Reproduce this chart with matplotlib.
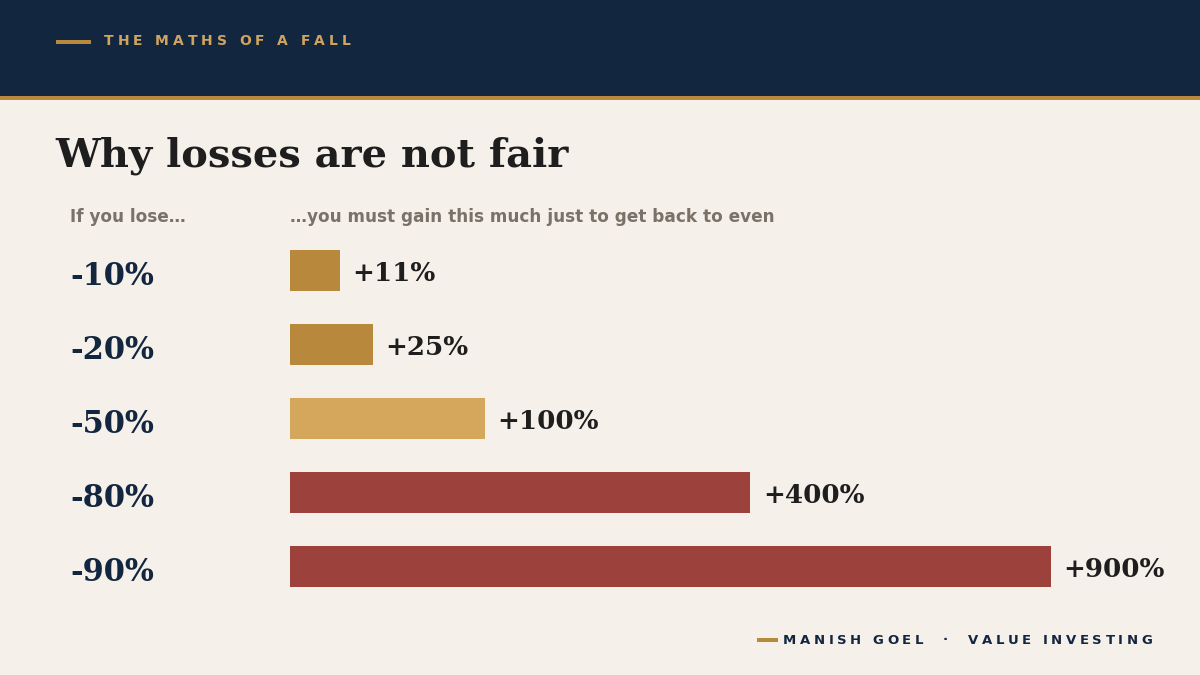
# losses vs gains needed to recover

import numpy as np
import matplotlib.pyplot as plt
from matplotlib.patches import Rectangle

# data
losses = ['-10%', '-20%', '-50%', '-80%', '-90%']
gains = [11, 25, 100, 400, 900]
gain_labels = ['+11%', '+25%', '+100%', '+400%', '+900%']
bar_colors = ['#B8893C', '#B8893C', '#D4A75C', '#9C413B', '#9C413B']

BG = '#F5F0EA'
NAVY = '#12263F'
GOLD = '#B8893C'
GREY = '#7A7268'
INK = '#1E1E1E'

W, H = 1200, 675
fig = plt.figure(figsize=(12, 6.75), dpi=100, facecolor=BG)


def fx(px):
    return px / W


def fy(py):
    return 1 - py / H


# header band + gold rule
fig.patches.append(Rectangle((0, fy(96)), 1, 96 / H, transform=fig.transFigure,
                             facecolor=NAVY, edgecolor='none'))
fig.patches.append(Rectangle((0, fy(100)), 1, 4 / H, transform=fig.transFigure,
                             facecolor=GOLD, edgecolor='none'))
fig.patches.append(Rectangle((fx(56), fy(43.5)), 35 / W, 3.5 / H, transform=fig.transFigure,
                             facecolor=GOLD, edgecolor='none'))
fig.patches.append(Rectangle((fx(757), fy(641.5)), 21 / W, 3.5 / H, transform=fig.transFigure,
                             facecolor=GOLD, edgecolor='none'))

renderer = fig.canvas.get_renderer()


def spaced_text(x, y, s, spacing, **kw):
    # draw text char by char with extra tracking (pixels)
    for ch in s:
        t = fig.text(fx(x), fy(y), ch, va='center', ha='left', **kw)
        w = t.get_window_extent(renderer).width
        if ch == ' ':
            w = kw.get('fontsize', 10) * 100 / 72 * 0.35
        x += w + spacing
    return x


spaced_text(104, 41, 'THE MATHS OF A FALL', 3.9, fontsize=10, fontweight='bold',
            color='#CFA45E', family='DejaVu Sans')
spaced_text(783, 640, 'MANISH GOEL  ·  VALUE INVESTING', 3.55, fontsize=9.5, fontweight='bold',
            color=NAVY, family='DejaVu Sans')

fig.text(fx(55), fy(156), 'Why losses are not fair', fontsize=28.8, fontweight='bold',
         family='DejaVu Serif', color=INK, va='center', ha='left')
fig.text(fx(70), fy(217), 'If you lose…', fontsize=12.2, fontweight='bold',
         family='DejaVu Sans', color=GREY, va='center', ha='left')
fig.text(fx(290), fy(217), '…you must gain this much just to get back to even', fontsize=12.2,
         fontweight='bold', family='DejaVu Sans', color=GREY, va='center', ha='left')

# bars on a power scale
ax = fig.add_axes([fx(290), fy(603.5), 761 / W, 370 / H])
ax.set_facecolor('none')
p = 0.62
ax.set_xscale('function', functions=(lambda x: np.sign(x) * np.abs(x) ** p,
                                     lambda x: np.sign(x) * np.abs(x) ** (1 / p)))
y = np.arange(len(gains))
ax.barh(y, gains, height=41 / 74, color=bar_colors, left=0)
ax.set_xlim(0, 900)
ax.set_ylim(4.5, -0.5)
for i, (g, lab) in enumerate(zip(gains, gain_labels)):
    ax.annotate(lab, (g, i), xytext=(9, -2.2), textcoords='offset points', va='center',
                ha='left', fontsize=18.8, fontweight='bold', family='DejaVu Serif',
                color=INK, annotation_clip=False)
    ax.annotate(losses[i], (0, i), xytext=(-220 * 0.72, -4.3), textcoords='offset points',
                va='center', ha='left', fontsize=22, fontweight='bold',
                family='DejaVu Serif', color=NAVY, annotation_clip=False)
ax.axis('off')

fig.savefig('out.png', dpi=100, facecolor=BG)
